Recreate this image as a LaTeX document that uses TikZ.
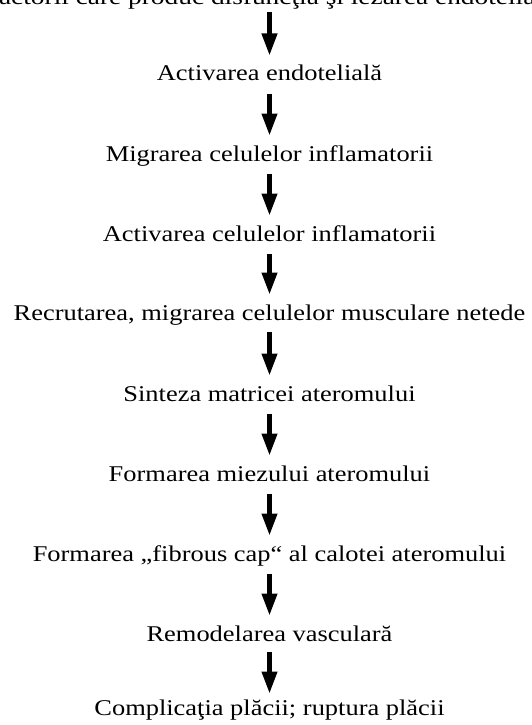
\documentclass[tikz,border=0pt]{standalone}
\usepackage{fontspec}
\setmainfont[FakeStretch=1.175]{Liberation Serif}
\usetikzlibrary{arrows.meta}
\begin{document}
\begin{tikzpicture}[x=1pt,y=-1pt,
  lbl/.style={font=\fontsize{22.5}{27}\selectfont, anchor=base, inner sep=0pt, outer sep=0pt, text height=16pt, text depth=5pt},
  flow/.style={line width=5.3pt, -{Triangle[length=22.5pt,width=14.5pt]}, shorten <=7.5pt, shorten >=9pt}]
\useasboundingbox (0,0) rectangle (531,725);
\clip (0,0) rectangle (531,725);
\node[lbl] (t0) at (269.5,4.5) {\scalebox{1.035}[1]{Factorii care produc disfuncţia şi lezarea endotelială}};
\node[lbl] (t1) at (269.5,81) {Activarea endotelială};
\node[lbl] (t2) at (269.5,161) {Migrarea celulelor inflamatorii};
\node[lbl] (t3) at (269.5,241) {Activarea celulelor inflamatorii};
\node[lbl] (t4) at (269.5,320) {Recrutarea, migrarea celulelor musculare netede};
\node[lbl] (t5) at (269.5,401) {Sinteza matricei ateromului};
\node[lbl] (t6) at (269.5,481) {Formarea miezului ateromului};
\node[lbl] (t7) at (269.5,561) {Formarea „fibrous cap“ al calotei ateromului};
\node[lbl] (t8) at (269.5,641) {Remodelarea vasculară};
\node[lbl] (t9) at (269.5,715) {Complicaţia plăcii; ruptura plăcii};
\draw[flow, shorten <=3pt] (t0) -- (t1);
\draw[flow] (t1) -- (t2);
\draw[flow] (t2) -- (t3);
\draw[flow, shorten <=8pt] (t3) -- (t4);
\draw[flow, shorten <=7pt] (t4) -- (t5);
\draw[flow] (t5) -- (t6);
\draw[flow] (t6) -- (t7);
\draw[flow] (t7) -- (t8);
\draw[flow, shorten <=5.5pt, shorten >=5pt] (t8) -- (t9);
\end{tikzpicture}
\end{document}
